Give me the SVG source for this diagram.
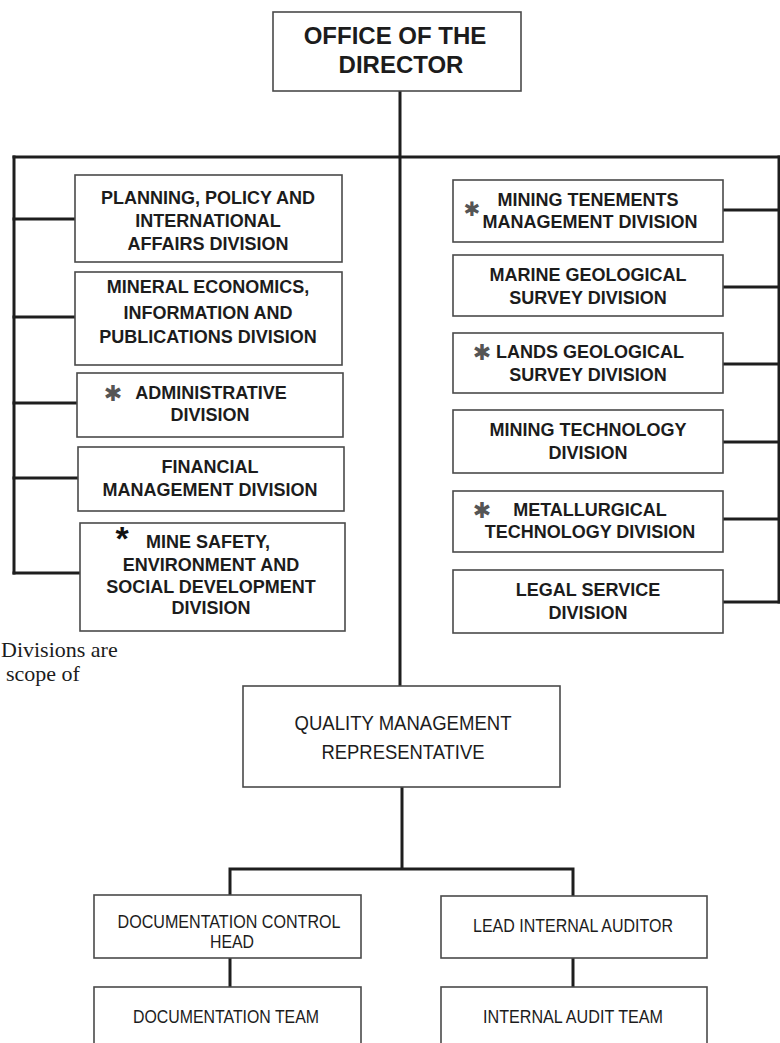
<svg xmlns="http://www.w3.org/2000/svg" width="780" height="1043" viewBox="0 0 780 1043">
<style>
.box{fill:#fff;stroke:#4a4a4a;stroke-width:1.6}
.con{fill:none;stroke:#1e1e1e;stroke-width:3;stroke-linecap:square}
.t{font-family:"Liberation Sans",Arial,sans-serif;font-weight:bold;font-size:18px;fill:#1c1c1c;text-anchor:middle}
.big{font-size:24px}
.n{font-family:"Liberation Sans",Arial,sans-serif;font-size:20px;fill:#1c1c1c;text-anchor:middle}
.s{font-size:18px}
.ast{font-family:"DejaVu Sans",sans-serif;fill:#555;text-anchor:middle}
.note{font-family:"Liberation Serif","Times New Roman",serif;font-size:22px;fill:#1c1c1c}
</style>
<rect width="780" height="1043" fill="#fff"/>
<g id="connectors">
<path class="con" d="M400 91V686"/>
<path class="con" d="M14 157H780"/>
<path class="con" d="M14 157V573"/>
<path class="con" d="M14 219H75M14 317H75M14 403H77M14 478H78M14 573H80"/>
<path class="con" d="M779 157V602"/>
<path class="con" d="M723 210H780M723 287H780M723 364H780M723 442H780M723 519H780M723 602H780"/>
<path class="con" d="M402 787V869M230 895V869H573V896"/>
<path class="con" d="M230 958V987M573 958V987"/>
</g>
<g id="director">
<rect class="box" x="273" y="12" width="248" height="79"/>
<text class="t big" x="395" y="44">OFFICE OF THE</text>
<text class="t big" x="401" y="73">DIRECTOR</text>
</g>
<g id="planning">
<rect class="box" x="75" y="175" width="267" height="87"/>
<text class="t" x="208" y="204">PLANNING, POLICY AND</text>
<text class="t" x="208" y="227">INTERNATIONAL</text>
<text class="t" x="208" y="250">AFFAIRS DIVISION</text>
</g>
<g id="mineral">
<rect class="box" x="75" y="272" width="267" height="93"/>
<text class="t" x="208" y="293">MINERAL ECONOMICS,</text>
<text class="t" x="208" y="319">INFORMATION AND</text>
<text class="t" x="208" y="343">PUBLICATIONS DIVISION</text>
</g>
<g id="admin">
<rect class="box" x="77" y="373" width="266" height="64"/>
<text class="ast" x="113" y="401" font-size="22">✱</text>
<text class="t" x="211" y="399">ADMINISTRATIVE</text>
<text class="t" x="210" y="421">DIVISION</text>
</g>
<g id="financial">
<rect class="box" x="78" y="447" width="266" height="64"/>
<text class="t" x="210" y="473">FINANCIAL</text>
<text class="t" x="210" y="496">MANAGEMENT DIVISION</text>
</g>
<g id="minesafety">
<rect class="box" x="80" y="523" width="265" height="108"/>
<text x="122" y="550" font-family="Liberation Sans,sans-serif" font-weight="bold" font-size="34" fill="#111" text-anchor="middle">*</text>
<text class="t" x="208" y="548">MINE SAFETY,</text>
<text class="t" x="211" y="571">ENVIRONMENT AND</text>
<text class="t" x="211" y="593">SOCIAL DEVELOPMENT</text>
<text class="t" x="211" y="614">DIVISION</text>
</g>
<g id="tenements">
<rect class="box" x="453" y="180" width="270" height="62"/>
<text class="t" x="588" y="206">MINING TENEMENTS</text>
<text class="t" x="590" y="228">MANAGEMENT DIVISION</text>
<text class="ast" x="472" y="216" font-size="20">✱</text>
</g>
<g id="marine">
<rect class="box" x="453" y="255" width="270" height="61"/>
<text class="t" x="588" y="281">MARINE GEOLOGICAL</text>
<text class="t" x="588" y="304">SURVEY DIVISION</text>
</g>
<g id="lands">
<rect class="box" x="453" y="333" width="270" height="60"/>
<text class="ast" x="482" y="360" font-size="22">✱</text>
<text class="t" x="590" y="358">LANDS GEOLOGICAL</text>
<text class="t" x="588" y="381">SURVEY DIVISION</text>
</g>
<g id="miningtech">
<rect class="box" x="453" y="410" width="270" height="63"/>
<text class="t" x="588" y="436">MINING TECHNOLOGY</text>
<text class="t" x="588" y="459">DIVISION</text>
</g>
<g id="metallurgical">
<rect class="box" x="453" y="491" width="270" height="61"/>
<text class="ast" x="482" y="518" font-size="22">✱</text>
<text class="t" x="590" y="516">METALLURGICAL</text>
<text class="t" x="590" y="538">TECHNOLOGY DIVISION</text>
</g>
<g id="legal">
<rect class="box" x="453" y="570" width="270" height="63"/>
<text class="t" x="588" y="596">LEGAL SERVICE</text>
<text class="t" x="588" y="619">DIVISION</text>
</g>
<g id="note">
<text class="note" x="1" y="657">Divisions are</text>
<text class="note" x="6" y="681">scope of</text>
</g>
<g id="qmr">
<rect class="box" x="243" y="686" width="317" height="101"/>
<text class="n" x="403" y="730" textLength="217" lengthAdjust="spacingAndGlyphs">QUALITY MANAGEMENT</text>
<text class="n" x="403" y="759" textLength="163" lengthAdjust="spacingAndGlyphs">REPRESENTATIVE</text>
</g>
<g id="dochead">
<rect class="box" x="94" y="895" width="267" height="63"/>
<text class="n s" x="229" y="928" textLength="223" lengthAdjust="spacingAndGlyphs">DOCUMENTATION CONTROL</text>
<text class="n s" x="232" y="948" textLength="44" lengthAdjust="spacingAndGlyphs">HEAD</text>
</g>
<g id="docteam">
<rect class="box" x="94" y="987" width="267" height="80"/>
<text class="n s" x="226" y="1023" textLength="186" lengthAdjust="spacingAndGlyphs">DOCUMENTATION TEAM</text>
</g>
<g id="leadauditor">
<rect class="box" x="441" y="896" width="266" height="62"/>
<text class="n s" x="573" y="932" textLength="200" lengthAdjust="spacingAndGlyphs">LEAD INTERNAL AUDITOR</text>
</g>
<g id="auditteam">
<rect class="box" x="441" y="987" width="266" height="80"/>
<text class="n s" x="573" y="1023" textLength="180" lengthAdjust="spacingAndGlyphs">INTERNAL AUDIT TEAM</text>
</g>
</svg>
